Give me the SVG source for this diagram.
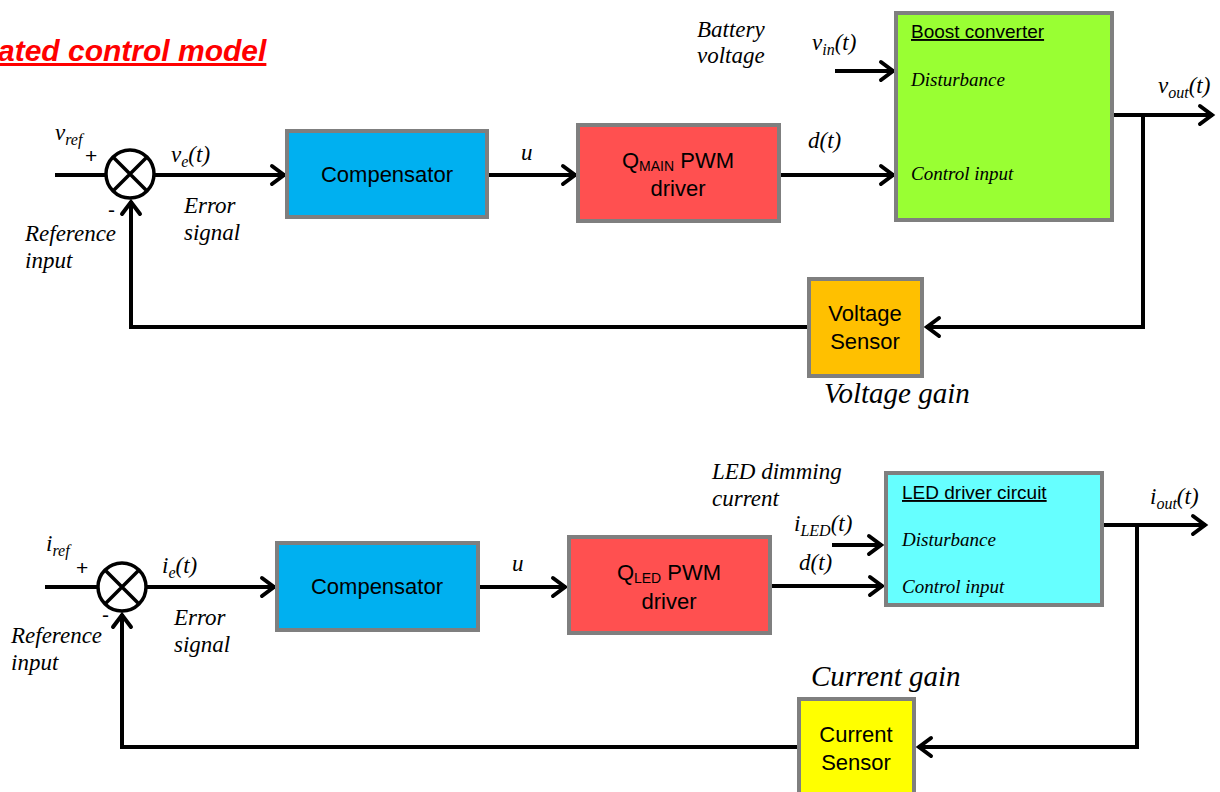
<svg xmlns="http://www.w3.org/2000/svg" width="1220" height="792" viewBox="0 0 1220 792">
  <defs>
    <marker id="arr" viewBox="-16 -12 20 24" refX="1" refY="0" markerWidth="20" markerHeight="24" markerUnits="userSpaceOnUse" orient="auto">
      <path d="M-12,-9 L0,0 L-12,9" fill="none" stroke="#000" stroke-width="4" stroke-linecap="round"/>
    </marker>
    <style>
      .blk { stroke: #7f7f7f; stroke-width: 4; }
      .bt { font-family: "Liberation Sans", Arial, sans-serif; font-size: 22px; fill: #000; text-anchor: middle; }
      .ht { font-family: "Liberation Sans", Arial, sans-serif; font-size: 19px; fill: #000; text-decoration: underline; }
      .it { font-family: "Liberation Serif", "Times New Roman", serif; font-style: italic; font-size: 23px; fill: #000; }
      .in { font-family: "Liberation Serif", "Times New Roman", serif; font-style: italic; font-size: 19px; fill: #000; }
      .big { font-family: "Liberation Serif", "Times New Roman", serif; font-style: italic; font-size: 29px; fill: #000; }
      .sg { font-family: "Liberation Sans", Arial, sans-serif; font-size: 21px; fill: #000; }
      .wire { fill: none; stroke: #000; stroke-width: 4; }
      .sum { fill: #fff; stroke: #000; stroke-width: 3.5; }
    </style>
  </defs>
  <rect width="1220" height="792" fill="#fff"/>

  <!-- heading -->
  <text x="-2" y="61" font-family="'Liberation Sans', Arial, sans-serif" font-size="30" font-weight="bold" font-style="italic" fill="#ff0000" text-decoration="underline">ated control model</text>

  <!-- connectors -->
  <g id="connectors">
    <!-- voltage loop -->
    <path class="wire" d="M55,175 H106"/>
    <path class="wire" d="M154,175 H285" marker-end="url(#arr)"/>
    <path class="wire" d="M487,175 H576" marker-end="url(#arr)"/>
    <path class="wire" d="M779,175 H894" marker-end="url(#arr)"/>
    <path class="wire" d="M835,71 H894" marker-end="url(#arr)"/>
    <path class="wire" d="M1112,115 H1213" marker-end="url(#arr)"/>
    <path class="wire" d="M1143,115 V327 H926" marker-end="url(#arr)"/>
    <path class="wire" d="M808,327 H131 V201" marker-end="url(#arr)"/>
    <!-- current loop -->
    <path class="wire" d="M45,587 H97"/>
    <path class="wire" d="M147,587 H275" marker-end="url(#arr)"/>
    <path class="wire" d="M478,587 H566" marker-end="url(#arr)"/>
    <path class="wire" d="M770,586 H883" marker-end="url(#arr)"/>
    <path class="wire" d="M832,545 H882" marker-end="url(#arr)"/>
    <path class="wire" d="M1102,525 H1206" marker-end="url(#arr)"/>
    <path class="wire" d="M1137,525 V747 H918" marker-end="url(#arr)"/>
    <path class="wire" d="M798,747 H122 V614" marker-end="url(#arr)"/>
  </g>

  <!-- voltage loop nodes -->
  <g id="sum-v">
    <circle class="sum" cx="130" cy="174" r="24"/>
    <path d="M113,157 L147,191 M147,157 L113,191" stroke="#000" stroke-width="3.5"/>
    <text class="it" x="55" y="140">v<tspan font-size="16" dy="5">ref</tspan></text>
    <text class="sg" x="85" y="163">+</text>
    <text class="sg" x="108" y="217">-</text>
    <text class="it" x="171" y="162">v<tspan font-size="16" dy="5">e</tspan><tspan dy="-5">(t)</tspan></text>
    <text class="it" x="184" y="213">Error</text>
    <text class="it" x="184" y="240">signal</text>
    <text class="it" x="25" y="241">Reference</text>
    <text class="it" x="25" y="268">input</text>
  </g>
  <g id="comp-v">
    <rect class="blk" x="287" y="131" width="200" height="86" fill="#00b0f0"/>
    <text class="bt" x="387" y="182">Compensator</text>
  </g>
  <text class="it" x="521" y="160">u</text>
  <g id="pwm-main">
    <rect class="blk" x="578" y="125" width="201" height="96" fill="#ff5050"/>
    <text class="bt" x="678" y="168">Q<tspan font-size="14" dy="3">MAIN</tspan><tspan dy="-3"> PWM</tspan></text>
    <text class="bt" x="678" y="196">driver</text>
  </g>
  <text class="it" x="808" y="148">d(t)</text>
  <text class="it" x="697" y="37">Battery</text>
  <text class="it" x="697" y="63">voltage</text>
  <text class="it" x="812" y="50">v<tspan font-size="16" dy="5">in</tspan><tspan dy="-5">(t)</tspan></text>
  <g id="boost">
    <rect class="blk" x="896" y="13" width="216" height="207" fill="#99ff33"/>
    <text class="ht" x="911" y="38">Boost converter</text>
    <text class="in" x="911" y="86">Disturbance</text>
    <text class="in" x="911" y="180">Control input</text>
  </g>
  <text class="it" x="1158" y="93">v<tspan font-size="16" dy="5">out</tspan><tspan dy="-5">(t)</tspan></text>
  <g id="vsense">
    <rect class="blk" x="809" y="279" width="113" height="97" fill="#ffc000"/>
    <text class="bt" x="865" y="321">Voltage</text>
    <text class="bt" x="865" y="349">Sensor</text>
  </g>
  <text class="big" x="824" y="403">Voltage gain</text>

  <!-- current loop nodes -->
  <g id="sum-i">
    <circle class="sum" cx="122" cy="587" r="24"/>
    <path d="M105,570 L139,604 M139,570 L105,604" stroke="#000" stroke-width="3.5"/>
    <text class="it" x="46" y="551">i<tspan font-size="16" dy="5">ref</tspan></text>
    <text class="sg" x="76" y="575">+</text>
    <text class="sg" x="102" y="622">-</text>
    <text class="it" x="162" y="573">i<tspan font-size="16" dy="5">e</tspan><tspan dy="-5">(t)</tspan></text>
    <text class="it" x="174" y="625">Error</text>
    <text class="it" x="174" y="652">signal</text>
    <text class="it" x="11" y="643">Reference</text>
    <text class="it" x="11" y="670">input</text>
  </g>
  <g id="comp-i">
    <rect class="blk" x="277" y="543" width="201" height="87" fill="#00b0f0"/>
    <text class="bt" x="377" y="594">Compensator</text>
  </g>
  <text class="it" x="512" y="571">u</text>
  <g id="pwm-led">
    <rect class="blk" x="569" y="537" width="201" height="96" fill="#ff5050"/>
    <text class="bt" x="669" y="580">Q<tspan font-size="14" dy="3">LED</tspan><tspan dy="-3"> PWM</tspan></text>
    <text class="bt" x="669" y="609">driver</text>
  </g>
  <text class="it" x="799" y="570">d(t)</text>
  <text class="it" x="712" y="479">LED dimming</text>
  <text class="it" x="712" y="506">current</text>
  <text class="it" x="794" y="531">i<tspan font-size="16" dy="5">LED</tspan><tspan dy="-5">(t)</tspan></text>
  <g id="led-driver">
    <rect class="blk" x="886" y="473" width="216" height="132" fill="#66ffff"/>
    <text class="ht" x="902" y="499">LED driver circuit</text>
    <text class="in" x="902" y="546">Disturbance</text>
    <text class="in" x="902" y="593">Control input</text>
  </g>
  <text class="it" x="1150" y="504">i<tspan font-size="16" dy="5">out</tspan><tspan dy="-5">(t)</tspan></text>
  <g id="isense">
    <rect class="blk" x="799" y="699" width="115" height="100" fill="#ffff00"/>
    <text class="bt" x="856" y="742">Current</text>
    <text class="bt" x="856" y="770">Sensor</text>
  </g>
  <text class="big" x="811" y="686">Current gain</text>
</svg>
